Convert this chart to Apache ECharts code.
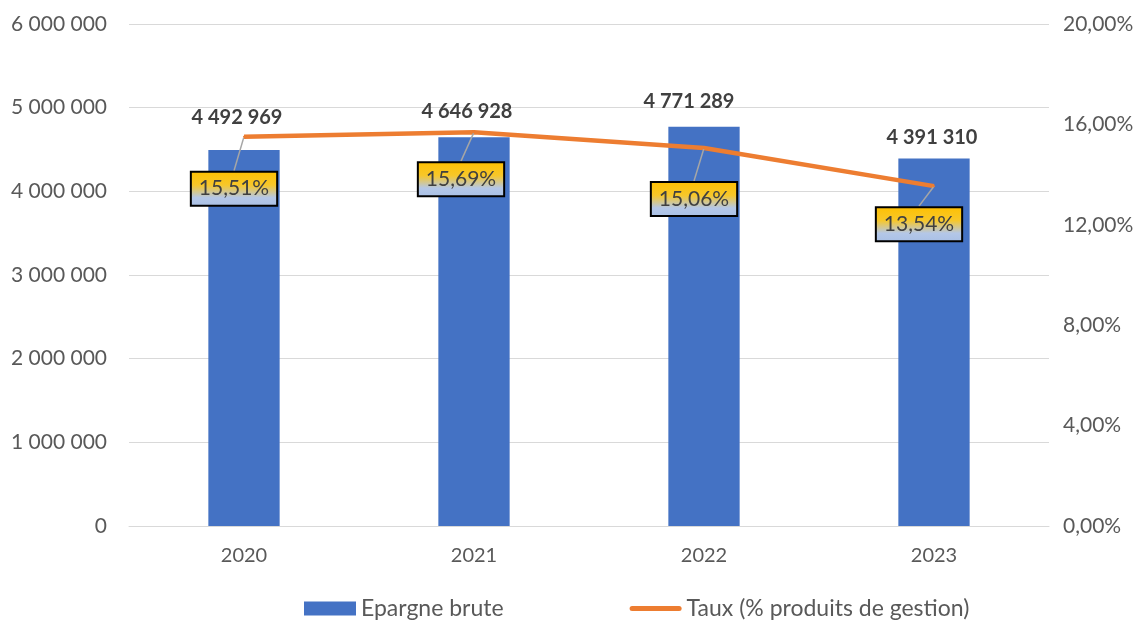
<!DOCTYPE html>
<html>
<head>
<meta charset="utf-8">
<script src="https://cdn.jsdelivr.net/npm/echarts@6/dist/echarts.min.js"></script>
<style>
  html, body { margin: 0; padding: 0; background: #ffffff; }
  #chart { width: 1144px; height: 621px; }
</style>
</head>
<body>
<div id="chart"></div>
<script>
// Categories and series values
const years = ['2020', '2021', '2022', '2023'];
const epargneBrute = [4492969, 4646928, 4771289, 4391310];
const tauxGestion = [15.51, 15.69, 15.06, 13.54];
const seriesNames = ['Epargne brute', 'Taux (% produits de gestion)'];

// Label placement offsets (pixels) for the value callouts
const barLabelShift = [[-7, -1], [-7, 6], [-15, 7], [-2, 11]];
const rateLabelShift = [[-10, 52], [-13, 47], [-10, 51], [-15, 38]];

const fontFamily = 'Lato, "Open Sans", "Noto Sans", sans-serif';
const textGrey = '#595959';

function frNumber(v) {
  return String(Math.round(v)).replace(/\B(?=(\d{3})+(?!\d))/g, ' ');
}
function frPercent(v, d) {
  return v.toFixed(d).replace('.', ',') + '%';
}

const chart = echarts.init(document.getElementById('chart'));
chart.setOption({
  animation: false,
  grid: { left: 129, right: 95, top: 24, bottom: 95 },
  legend: {
    bottom: -4,
    left: 299,
    itemGap: 126,
    itemWidth: 52,
    itemHeight: 14,
    textStyle: { fontFamily, fontSize: 23, color: textGrey },
    data: [
      { name: seriesNames[0], icon: 'rect' },
      { name: seriesNames[1], icon: 'path://M2.5,0 L49.5,0 A2.5,2.5 0 0 1 49.5,5 L2.5,5 A2.5,2.5 0 0 1 2.5,0 Z' }
    ]
  },
  xAxis: {
    type: 'category',
    data: years,
    axisTick: { show: false },
    axisLine: { lineStyle: { color: '#d9d9d9', width: 1 } },
    axisLabel: { fontFamily, fontSize: 20, color: textGrey, margin: 20 }
  },
  yAxis: [
    {
      type: 'value',
      min: 0,
      max: 6000000,
      interval: 1000000,
      axisLine: { show: false },
      axisTick: { show: false },
      splitLine: { lineStyle: { color: '#d9d9d9', width: 1 } },
      axisLabel: { fontFamily, fontSize: 21, color: textGrey, margin: 22, formatter: frNumber }
    },
    {
      type: 'value',
      min: 0,
      max: 20,
      interval: 4,
      axisLine: { show: false },
      axisTick: { show: false },
      splitLine: { show: false },
      axisLabel: { fontFamily, fontSize: 21, color: textGrey, margin: 14, formatter: v => frPercent(v, 2) }
    }
  ],
  series: [
    {
      name: seriesNames[0],
      type: 'bar',
      data: epargneBrute,
      barWidth: '31%',
      itemStyle: { color: '#4472C4' },
      label: {
        show: true,
        position: 'top',
        distance: 22,
        fontFamily,
        fontSize: 20,
        fontWeight: 'bold',
        color: '#404040',
        formatter: p => frNumber(p.value)
      },
      labelLayout: p => ({ dx: barLabelShift[p.dataIndex][0], dy: barLabelShift[p.dataIndex][1] })
    },
    {
      name: seriesNames[1],
      type: 'line',
      yAxisIndex: 1,
      data: tauxGestion,
      symbol: 'circle',
      symbolSize: 2,
      showSymbol: true,
      lineStyle: { color: '#ED7D31', width: 4.5 },
      itemStyle: { color: '#ED7D31' },
      label: {
        show: true,
        position: 'inside',
        fontFamily,
        fontSize: 21,
        color: '#404040',
        padding: [6, 7, 5, 7],
        borderColor: '#000000',
        borderWidth: 2,
        backgroundColor: {
          type: 'linear', x: 0, y: 0, x2: 0, y2: 1,
          colorStops: [
            { offset: 0, color: '#FFC000' },
            { offset: 0.4, color: '#F7C72A' },
            { offset: 0.75, color: '#B4C7E7' },
            { offset: 1, color: '#A9C0E6' }
          ]
        },
        formatter: p => frPercent(p.value, 2)
      },
      labelLine: { show: true, lineStyle: { color: '#A6A6A6', width: 1.5 } },
      labelLayout: p => ({ dx: rateLabelShift[p.dataIndex][0], dy: rateLabelShift[p.dataIndex][1] })
    }
  ]
});
</script>
</body>
</html>
